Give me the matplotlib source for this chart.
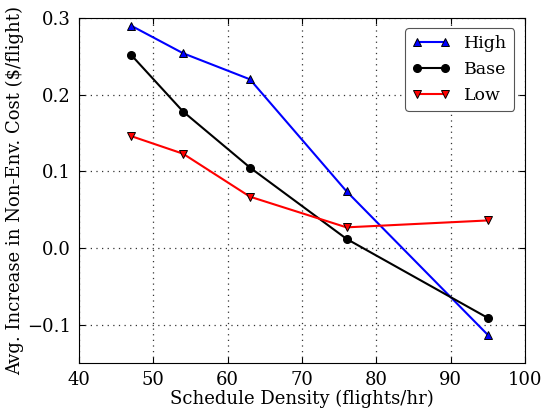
import matplotlib
matplotlib.use("Agg")
import matplotlib.pyplot as plt

# schedule density (flights/hr)
density = [47, 54, 63, 76, 95]

# avg increase in non-env cost ($/flight) per scenario
high = [0.290, 0.254, 0.220, 0.074, -0.113]
base = [0.252, 0.178, 0.105, 0.012, -0.091]
low = [0.146, 0.123, 0.067, 0.027, 0.036]

plt.rcParams['font.family'] = 'DejaVu Serif'
plt.rcParams['mathtext.fontset'] = 'dejavuserif'

fig = plt.figure(figsize=(5.45, 4.08), dpi=100)
ax = fig.add_axes([0.145, 0.110, 0.818, 0.846])

ax.plot(density, high, color='blue', marker='^', markersize=5.5, linewidth=1.5,
        markeredgecolor='black', markeredgewidth=0.7, label='High')
ax.plot(density, base, color='black', marker='o', markersize=5.5, linewidth=1.5,
        markeredgecolor='black', label='Base')
ax.plot(density, low, color='red', marker='v', markersize=5.5, linewidth=1.5,
        markeredgecolor='black', markeredgewidth=0.7, label='Low')

ax.set_xlim(40, 100)
ax.set_ylim(-0.15, 0.3)
ax.set_xticks([40, 50, 60, 70, 80, 90, 100])
ax.set_yticks([-0.1, 0.0, 0.1, 0.2, 0.3])
ax.set_yticklabels(['\u22120.1', '0.0', '0.1', '0.2', '0.3'])

ax.grid(True, color='#333333', linestyle=(0, (1, 3.5)), linewidth=0.9)
ax.tick_params(direction='in', top=True, right=True, labelsize=13, length=4, pad=6)

ax.set_xlabel('Schedule Density (flights/hr)', fontsize=13, labelpad=0)
ax.set_ylabel('Avg. Increase in Non-Env. Cost ($/flight)', fontsize=13, labelpad=2)

leg = ax.legend(loc='upper right', numpoints=2, fontsize=12.5, fancybox=True,
                framealpha=1, edgecolor='#555555', handlelength=2.2,
                borderaxespad=0.6)
leg.get_frame().set_linewidth(0.8)

fig.savefig('out.png', dpi=100)
